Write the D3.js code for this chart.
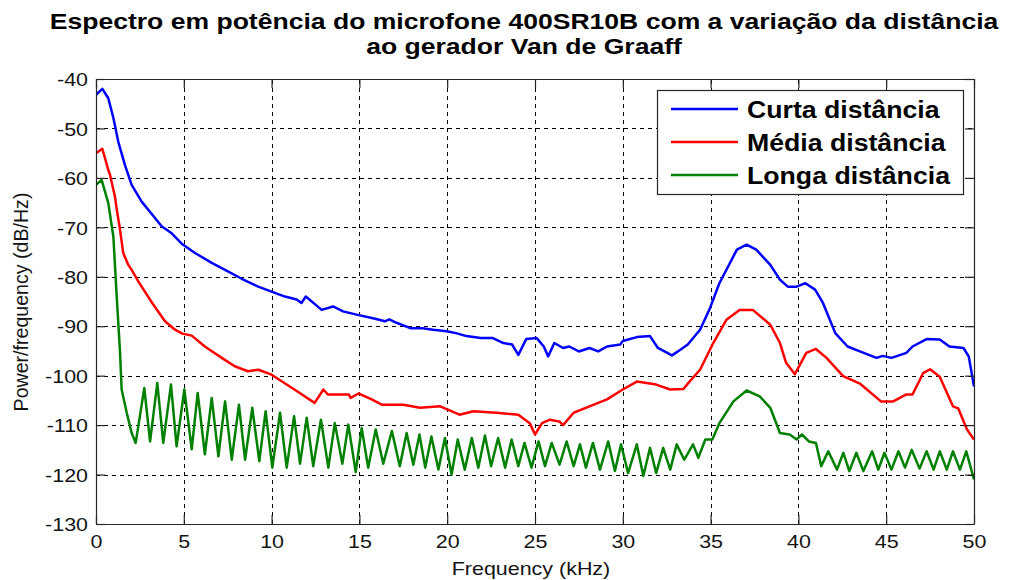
<!DOCTYPE html>
<html>
<head>
<meta charset="utf-8">
<script src="https://cdn.jsdelivr.net/npm/d3@7"></script>
<style>
  html, body { margin: 0; padding: 0; background: #fff; }
  svg { display: block; font-family: "Liberation Sans", Arial, sans-serif; }
</style>
</head>
<body>
<svg id="chart" width="1022" height="580"></svg>
<script>
// Power spectral density of the 400SR10B microphone at three distances
// from the Van de Graaff generator (frequency in kHz, PSD in dB/Hz).

const titleLines = [
  "Espectro em potência do microfone 400SR10B com a variação da distância",
  "ao gerador Van de Graaff"
];
const xLabel = "Frequency (kHz)";
const yLabel = "Power/frequency (dB/Hz)";
const xTicks = [0, 5, 10, 15, 20, 25, 30, 35, 40, 45, 50];
const yTicks = [-40, -50, -60, -70, -80, -90, -100, -110, -120, -130];
const seriesNames = ["Curta distância", "Média distância", "Longa distância"];
const seriesColors = ["#0000ff", "#ff0000", "#008000"];

// Curta distância
const curtaFreq = [0, 0.36, 0.7, 0.99, 1.27, 1.65, 2.03, 2.6, 3.36, 3.74, 4.31, 4.88, 5.64, 6.59, 7.35, 8.3, 9.24, 10, 10.76, 11.43, 11.7, 11.95, 12.85, 13.5, 14.07, 14.9, 15.9, 16.45, 16.7, 17.12, 17.9, 18.6, 19.2, 19.97, 20.5, 21.1, 21.9, 22.6, 23.2, 23.7, 24.05, 24.5, 25.1, 25.5, 25.75, 26.1, 26.6, 26.95, 27.5, 28.1, 28.6, 29.1, 29.85, 30.0, 30.8, 31.55, 32.0, 32.8, 33.3, 33.7, 34.4, 34.97, 35.5, 36.5, 37.05, 37.6, 38.4, 38.95, 39.4, 39.9, 40.4, 40.95, 41.4, 42.1, 42.8, 43.5, 44.45, 44.8, 45.3, 46.15, 46.5, 47.3, 48.05, 48.6, 49.4, 49.7, 50];
const curtaDb = [-43.2, -42.0, -43.9, -47.9, -52.7, -57.4, -61.4, -64.8, -68.1, -69.8, -71.2, -73.3, -75.2, -77.2, -78.6, -80.4, -82, -83, -84, -84.6, -85.3, -84, -86.7, -86, -87, -87.7, -88.5, -89, -88.6, -89.3, -90.4, -90.4, -90.7, -91, -91.4, -92, -92.4, -92.4, -93.4, -93.7, -95.8, -92.6, -92.4, -94.1, -96.1, -93.4, -94.4, -94.1, -95.1, -94.4, -95.1, -94.1, -93.7, -93, -92.2, -92, -94.4, -95.9, -94.7, -93.7, -90.7, -86.3, -81.3, -74.5, -73.5, -74.5, -77.6, -80.6, -82, -82, -81.3, -82.6, -85.3, -91.4, -94.1, -95.1, -96.4, -96, -96.4, -95.4, -94.1, -92.6, -92.7, -94.1, -94.4, -96.1, -102.2];

// Média distância
const mediaFreq = [0, 0.36, 0.7, 0.8, 1.08, 1.17, 1.37, 1.55, 1.84, 2.03, 2.4, 2.6, 3.2, 3.93, 4.5, 4.92, 5.45, 6.2, 7.16, 7.9, 8.65, 9.25, 10, 11.3, 12.45, 12.95, 13.2, 14.4, 14.5, 14.95, 15.7, 16.3, 17.5, 18.45, 19.6, 20.7, 21.5, 22.8, 24.05, 24.7, 25.0, 25.4, 25.85, 26.4, 26.6, 27.2, 28.1, 29.1, 30.0, 30.8, 31.9, 32.7, 33.45, 33.8, 34.4, 35.15, 35.9, 36.65, 37.4, 38.4, 38.95, 39.3, 39.8, 40.45, 41.0, 41.6, 42.55, 43.5, 44.7, 45.4, 46.15, 46.5, 47.1, 47.5, 48.05, 48.8, 49.1, 49.6, 50];
const mediaDb = [-55, -54.1, -58.4, -59.4, -63.8, -66.1, -70.5, -75.2, -77.6, -78.6, -80.9, -82, -85.3, -89, -90.7, -91.5, -91.9, -94.1, -96.4, -98.1, -99.1, -98.8, -99.8, -102.8, -105.5, -102.8, -103.8, -103.8, -104.5, -103.6, -104.8, -105.9, -105.9, -106.5, -106.2, -107.9, -107.2, -107.5, -107.9, -109.6, -111.9, -109.6, -108.9, -109.3, -110, -107.5, -106.2, -104.8, -102.8, -101.2, -101.8, -102.8, -102.7, -101.2, -98.8, -93.4, -88.7, -86.7, -86.7, -89.7, -93.4, -97.4, -99.7, -95.4, -94.6, -96.4, -100.1, -101.6, -105.2, -105.2, -103.8, -103.8, -99.5, -98.7, -100.2, -106.2, -106.6, -110.9, -112.9];

// Longa distância
const longaFreq = [0, 0.32, 0.7, 0.99, 1.18, 1.37, 1.46, 1.75, 2.03, 2.26,
  2.75, 3.08, 3.49, 3.83, 4.27, 4.59, 5.03, 5.45, 5.79, 6.2, 6.59, 6.97, 7.35, 7.73, 8.14, 8.49, 8.9, 9.3, 9.66, 10.04,
  10.48, 10.86, 11.28, 11.62, 12.0, 12.37, 12.81, 13.23, 13.6, 14.03, 14.37, 14.79, 15.13, 15.5, 15.93, 16.36, 16.85, 17.3,
  17.69, 18.07, 18.42, 18.75, 19.1, 19.5, 19.87, 20.25, 20.6, 21.0, 21.4, 21.77, 22.15, 22.5, 22.9, 23.3, 23.67, 24.05,
  24.4, 24.8, 25.2, 25.57, 25.95, 26.4, 26.8, 27.2, 27.56, 27.9, 28.3, 28.7, 29.17, 29.55, 29.9, 30.3, 30.8, 31.17,
  31.55, 31.9, 32.3, 32.7, 33.07, 33.5, 34.0, 34.3, 34.7, 35.1, 35.5, 36.3, 37.05, 37.8, 38.4, 38.95, 39.5, 39.9, 40.2,
  40.6, 41.0, 41.3, 41.7, 42.2, 42.56, 42.9, 43.3, 43.7, 44.2, 44.55, 44.9, 45.3, 45.7, 46.07, 46.45, 46.9, 47.3, 47.7,
  48.05, 48.45, 48.8, 49.2, 49.56, 50];
const longaDb = [-61.4, -60.4, -65.1, -71.9, -84, -95.4, -102.8, -107.5, -111.6, -113.6,
  -102.5, -113.3, -101.5, -113.6, -101.8, -114.3, -102.8, -114.9, -103.5, -115.9, -104.5, -116.3, -105.2, -117.0, -105.9, -117.0, -106.5, -117.3, -107.2, -118.6,
  -107.5, -118.6, -108.2, -117.8, -108.5, -118.3, -108.9, -118.6, -109.6, -117.8, -109.9, -119.5, -110.6, -118.6, -110.9, -117.8, -111.2, -118.3,
  -111.6, -118.0, -111.9, -118.6, -112.3, -119.0, -112.6, -120.0, -112.9, -119.0, -112.6, -118.6, -112.1, -118.3, -112.6, -118.6, -112.9, -118.3,
  -113.6, -118.6, -113.3, -118.3, -113.6, -118.0, -113.3, -118.3, -113.9, -118.6, -113.6, -119.0, -113.3, -119.3, -113.9, -119.7, -113.9, -120.3,
  -114.6, -119.7, -114.6, -119.0, -113.9, -117.0, -113.9, -116.6, -112.9, -112.9, -109.6, -105.2, -103.0, -104.2, -106.5, -111.6, -111.9, -112.9, -111.9,
  -113.3, -113.6, -118.3, -115.3, -119.0, -115.6, -119.3, -115.6, -119.3, -115.3, -119.0, -115.6, -119.0, -115.3, -118.6, -115.0, -118.8, -115.3, -119.0,
  -115.3, -119.0, -115.3, -119.0, -115.3, -121.0];

const seriesFreq = [curtaFreq, mediaFreq, longaFreq];
const seriesDb = [curtaDb, mediaDb, longaDb];

const svg = d3.select("#chart");
const plot = { left: 96, right: 974, top: 79, bottom: 524 };
const textStretch = 1.16;   // glyphs are drawn slightly wide
const axisColor = "#262626";
const tickFmt = d => String(d);   // plain hyphen-minus

const x = d3.scaleLinear().domain([0, 50]).range([plot.left, plot.right]);
const y = d3.scaleLinear().domain([-130, -40]).range([plot.bottom, plot.top]);

// Title
svg.append("g").selectAll("text").data(titleLines).join("text")
  .attr("transform", (d, i) => `translate(${524},${29 + i * 25}) scale(${textStretch},1)`)
  .attr("text-anchor", "middle")
  .attr("font-weight", "bold")
  .attr("font-size", 22.9)
  .attr("fill", "#000")
  .text(d => d);

// Dotted grid
const grid = svg.append("g").attr("stroke", "#000").attr("stroke-width", 1)
  .attr("stroke-dasharray", "4,4");
grid.selectAll("line.gx").data(xTicks.slice(1, -1)).join("line")
  .attr("x1", d => Math.round(x(d)) + 0.5).attr("x2", d => Math.round(x(d)) + 0.5)
  .attr("y1", plot.bottom).attr("y2", plot.top);
grid.selectAll("line.gy").data(yTicks.slice(1, -1)).join("line")
  .attr("y1", d => Math.round(y(d)) + 0.5).attr("y2", d => Math.round(y(d)) + 0.5)
  .attr("x1", plot.left).attr("x2", plot.right);

// Curves
svg.append("clipPath").attr("id", "plotClip").append("rect")
  .attr("x", plot.left).attr("y", plot.top)
  .attr("width", plot.right - plot.left).attr("height", plot.bottom - plot.top);

const line = d3.line().x(d => x(d[0])).y(d => y(d[1]));
const curves = svg.append("g").attr("clip-path", "url(#plotClip)");
seriesFreq.forEach((fr, i) => {
  const pts = fr.map((f, k) => [f, seriesDb[i][k]]);
  curves.append("path")
    .datum(pts)
    .attr("d", line)
    .attr("fill", "none")
    .attr("stroke", seriesColors[i])
    .attr("stroke-width", 2.5)
    .attr("stroke-linejoin", "round");
});

// Axes with inward ticks on all four sides
function styleAxis(g) {
  g.selectAll("path.domain").attr("stroke", axisColor).attr("stroke-width", 1.2);
  g.selectAll(".tick line").attr("stroke", axisColor).attr("stroke-width", 1.2);
  g.selectAll(".tick text")
    .attr("font-family", '"Liberation Sans", Arial, sans-serif')
    .attr("font-size", 18.5)
    .attr("fill", "#141414");
}

const yAxis = svg.append("g")
  .attr("transform", `translate(${plot.left},0)`)
  .call(d3.axisLeft(y).tickValues(yTicks).tickSize(-9).tickSizeOuter(0).tickPadding(8)
    .tickFormat(tickFmt))
  .call(styleAxis);
yAxis.selectAll(".tick text")
  .attr("x", null).attr("dy", null)
  .attr("transform", `translate(-8,6.7) scale(${textStretch},1)`);

const xAxis = svg.append("g")
  .attr("transform", `translate(0,${plot.bottom})`)
  .call(d3.axisBottom(x).tickValues(xTicks).tickSize(-9).tickSizeOuter(0).tickPadding(8)
    .tickFormat(tickFmt))
  .call(styleAxis);
xAxis.selectAll(".tick text")
  .attr("y", null).attr("dy", null)
  .attr("transform", `translate(0,24) scale(${textStretch},1)`);

svg.append("g")
  .attr("transform", `translate(${plot.right},0)`)
  .call(d3.axisRight(y).tickValues(yTicks).tickSize(-9).tickSizeOuter(0).tickFormat(""))
  .call(styleAxis);
svg.append("g")
  .attr("transform", `translate(0,${plot.top})`)
  .call(d3.axisTop(x).tickValues(xTicks).tickSize(-9).tickSizeOuter(0).tickFormat(""))
  .call(styleAxis);

// Axis labels
svg.append("text")
  .attr("transform", `translate(${531},${575}) scale(${textStretch},1)`)
  .attr("text-anchor", "middle")
  .attr("font-size", 18.5)
  .attr("fill", "#141414")
  .text(xLabel);
svg.append("text")
  .attr("transform", `translate(${28},${302}) rotate(-90)`)
  .attr("text-anchor", "middle")
  .attr("font-size", 19.6)
  .attr("fill", "#141414")
  .text(yLabel);

// Legend
const legend = svg.append("g");
legend.append("rect")
  .attr("x", 657.5).attr("y", 90.5).attr("width", 306).attr("height", 104)
  .attr("fill", "#fff").attr("stroke", axisColor).attr("stroke-width", 1.2);
const rows = legend.selectAll("g.row").data(seriesNames).join("g")
  .attr("transform", (d, i) => `translate(0,${109 + i * 33})`);
rows.append("line")
  .attr("x1", 671).attr("x2", 738).attr("y1", 0).attr("y2", 0)
  .attr("stroke", (d, i) => seriesColors[i]).attr("stroke-width", 2.5);
rows.append("text")
  .attr("transform", `translate(747,8.5) scale(${textStretch},1)`)
  .attr("font-weight", "bold")
  .attr("font-size", 23)
  .attr("fill", "#000")
  .text(d => d);
</script>
</body>
</html>
